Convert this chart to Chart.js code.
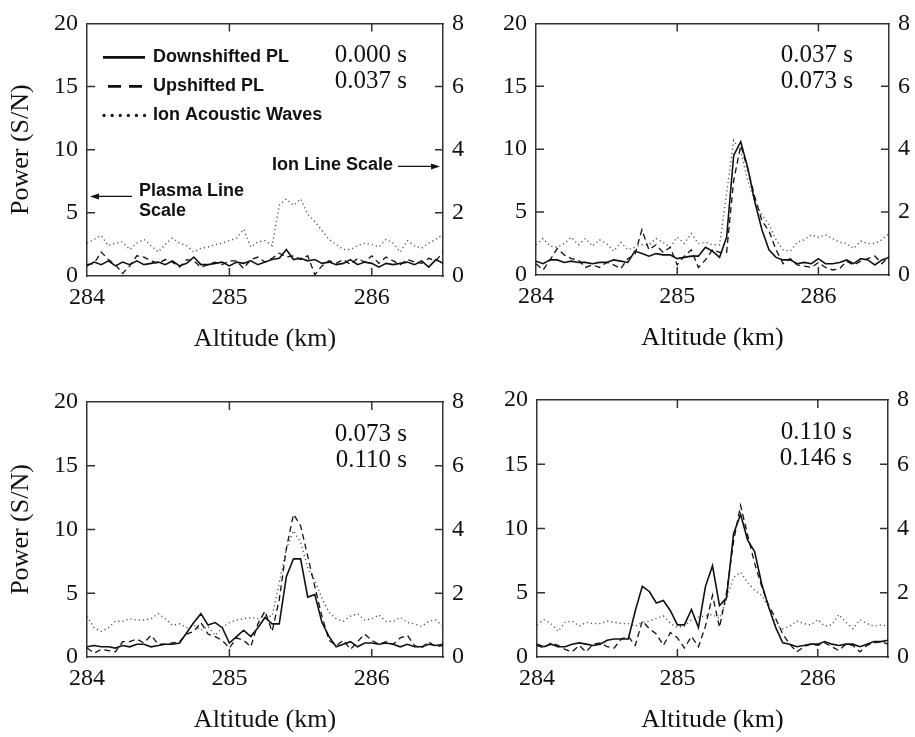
<!DOCTYPE html>
<html>
<head>
<meta charset="utf-8">
<title>Plasma line and ion line profiles</title>
<script src="https://cdn.jsdelivr.net/npm/chart.js@4.4.1/dist/chart.umd.min.js"></script>
<style>
  html, body { margin: 0; padding: 0; background: #fff; overflow: hidden; }
  #wrap { position: relative; width: 915px; height: 737px; }
  #wrap canvas { position: absolute; }
</style>
</head>
<body>
<div id="wrap">
  <canvas id="p1"></canvas>
  <canvas id="p2"></canvas>
  <canvas id="p3"></canvas>
  <canvas id="p4"></canvas>
</div>
<script>
// altitude grid (km), shared by every profile
const altitude = [
  284.00, 284.05, 284.10, 284.15, 284.20, 284.25, 284.30, 284.35, 284.40, 284.45,
  284.50, 284.55, 284.60, 284.65, 284.70, 284.75, 284.80, 284.85, 284.90, 284.95,
  285.00, 285.05, 285.10, 285.15, 285.20, 285.25, 285.30, 285.35, 285.40, 285.45,
  285.50, 285.55, 285.60, 285.65, 285.70, 285.75, 285.80, 285.85, 285.90, 285.95,
  286.00, 286.05, 286.10, 286.15, 286.20, 286.25, 286.30, 286.35, 286.40, 286.45,
  286.50
];
const altTicks = [284, 285, 286];
const plasmaTicks = [0, 5, 10, 15, 20];   // left axis, plasma line S/N
const ionTicks = [0, 2, 4, 6, 8];         // right axis, ion line S/N

// 0.000 s - 0.037 s
const down1 = [0.8,1.1,0.9,1.2,0.8,1.1,0.9,1.2,0.9,1.0, 1.1,0.9,1.2,0.8,1.0,1.5,0.9,0.9,1.0,1.1,
  0.8,1.1,1.0,1.2,0.9,1.1,1.3,1.4,2.1,1.3, 1.4,1.2,1.3,1.0,1.1,0.9,1.0,1.3,0.9,1.1,
  1.0,0.7,1.0,0.9,1.0,1.1,0.9,1.2,0.7,1.3,1.0];
const up1 = [0.9,1.0,1.9,1.3,0.9,0.2,0.8,1.6,1.5,1.2, 1.0,1.3,1.1,0.7,1.3,1.2,0.7,0.9,1.1,0.9,
  1.2,1.2,0.6,1.3,1.5,1.1,1.4,1.8,1.5,1.6, 1.3,1.6,0.1,0.8,1.2,1.0,1.3,0.9,1.4,1.1,
  1.6,1.0,1.5,1.2,0.9,1.3,1.1,1.0,1.4,1.2,1.9];
const ion1 = [1.04,1.16,1.28,0.96,1.04,1.08,0.84,1.04,1.16,0.96, 0.76,1.00,1.20,1.04,0.96,0.76,0.88,0.92,1.00,1.04,
  1.12,1.20,1.48,0.92,1.08,1.12,0.96,2.24,2.44,2.24, 2.44,1.96,1.72,1.44,1.16,1.00,0.84,0.84,0.96,1.04,
  1.00,0.92,1.16,1.04,0.76,1.12,0.96,0.88,1.04,1.16,1.32];

// 0.037 s - 0.073 s
const down2 = [1.1,0.9,1.2,1.2,1.0,1.1,1.0,1.0,0.9,1.0, 1.0,1.2,1.1,1.0,1.9,1.7,1.5,1.7,1.6,1.6,
  1.3,1.4,1.5,1.5,2.2,1.9,1.4,3.0,9.5,10.6, 8.5,5.8,3.6,2.0,1.4,1.2,1.2,0.9,1.0,0.9,
  1.3,0.9,0.9,1.0,1.2,0.9,1.3,1.2,0.8,1.2,1.4];
const up2 = [0.9,0.4,1.2,2.1,1.6,1.3,1.2,0.6,0.8,0.6, 1.0,0.8,0.5,1.3,1.6,3.6,2.0,2.4,1.8,2.2,
  0.8,1.5,2.0,0.6,1.2,2.0,1.8,1.8,7.5,10.3, 8.4,6.2,4.3,3.5,2.0,0.9,1.3,0.8,0.7,0.6,
  1.0,0.6,0.4,0.5,1.1,0.8,1.1,1.3,1.5,0.9,1.5];
const ion2 = [0.96,1.16,0.92,0.88,1.00,1.20,0.96,1.16,0.92,1.12, 1.00,0.76,1.04,0.80,0.88,0.96,0.96,1.16,1.04,0.88,
  1.20,1.00,1.32,1.00,1.04,0.96,0.96,2.60,4.28,3.92, 3.00,2.32,1.92,1.60,1.12,0.80,0.76,1.04,1.12,1.28,
  1.20,1.28,1.16,1.04,1.00,0.84,1.08,1.00,1.00,1.12,1.32];

// 0.073 s - 0.110 s
const down3 = [0.8,0.9,0.8,0.8,0.7,0.9,0.8,1.0,1.0,0.8, 0.9,1.0,1.0,1.1,1.9,2.7,3.4,2.5,2.7,2.3,
  1.1,1.6,2.1,1.6,2.3,3.1,2.6,2.6,6.3,7.7, 7.7,4.7,4.9,2.7,1.6,0.8,1.0,1.2,0.8,1.1,
  1.1,1.0,1.1,1.0,0.8,1.0,0.8,0.8,1.0,0.9,1.0];
const up3 = [0.7,0.3,0.6,0.5,0.4,1.2,1.2,1.4,1.1,1.7, 1.0,1.0,1.1,1.2,1.8,2.0,2.7,1.8,1.6,1.3,
  0.7,1.5,1.3,0.8,2.6,3.6,2.0,4.5,8.5,11.2, 10.3,7.9,5.5,3.2,1.3,0.9,1.3,0.6,1.2,1.8,
  1.3,1.0,1.2,1.0,1.5,1.7,0.9,0.7,1.2,0.8,0.9];
const ion3 = [1.28,0.92,0.80,0.92,1.12,1.12,1.20,1.16,1.16,1.20, 1.36,1.20,1.00,1.04,0.92,1.00,0.84,0.96,0.68,0.92,
  1.08,1.16,1.20,1.24,1.20,1.28,1.28,2.32,3.40,3.96, 3.60,2.80,2.40,1.84,1.40,1.20,1.12,1.28,1.36,1.16,
  1.20,1.32,1.12,1.12,1.24,1.08,1.04,0.96,1.12,1.16,0.96];

// 0.110 s - 0.146 s
const down4 = [1.0,0.8,1.0,0.8,0.8,1.0,1.1,1.0,0.9,1.0, 1.3,1.4,1.4,1.4,3.6,5.5,5.1,4.2,4.4,3.6,
  2.5,2.5,3.7,2.3,5.5,7.1,4.0,4.6,9.6,11.1, 9.1,8.2,5.7,3.9,2.3,1.1,1.0,0.8,0.9,1.0,
  1.0,1.2,1.0,0.9,1.0,1.0,0.8,1.0,1.2,1.2,1.3];
const up4 = [0.9,0.7,1.1,0.9,0.6,0.4,0.9,0.4,1.0,1.1, 0.8,0.7,1.4,1.6,0.9,2.8,2.2,1.8,0.9,1.9,
  1.5,0.7,1.6,0.8,2.4,4.8,2.3,5.0,9.0,11.8, 9.5,7.3,5.5,4.0,3.0,1.8,1.0,0.4,0.8,1.0,
  0.9,1.1,0.8,0.5,1.0,0.9,0.4,0.9,1.1,1.2,1.0];
const ion4 = [1.00,1.16,1.04,0.80,1.08,1.12,0.96,1.08,1.04,1.04, 1.12,1.08,1.04,1.04,0.96,1.08,1.12,1.20,1.28,1.04,
  0.92,0.96,1.16,1.24,1.28,1.32,1.20,1.80,2.48,2.64, 2.32,2.08,1.92,1.56,1.00,0.88,0.96,1.12,1.04,1.00,
  1.16,0.96,1.00,1.32,1.08,0.88,1.16,1.04,0.96,1.00,0.96];

const times1 = ['0.000 s', '0.037 s'];
const times2 = ['0.037 s', '0.073 s'];
const times3 = ['0.073 s', '0.110 s'];
const times4 = ['0.110 s', '0.146 s'];

const seriesNames = ['Downshifted PL', 'Upshifted PL', 'Ion Acoustic Waves'];

const SERIF = '"Liberation Serif", "Times New Roman", serif';
const SANS = '"Liberation Sans", Arial, sans-serif';
const INK = '#111';
const FRAME = '#333';

// canvas box (page px) and plot area (page px: left, top, right, bottom)
const panels = [
  { id: 'p1', x: 0,   y: 0,   w: 470, h: 370, area: [87, 16, 443, 276],  down: down1, up: up1, ion: ion1, times: times1, yTitle: true,  extras: true },
  { id: 'p2', x: 465, y: 0,   w: 450, h: 369, area: [536, 15, 889, 275], down: down2, up: up2, ion: ion2, times: times2, yTitle: false, extras: false },
  { id: 'p3', x: 0,   y: 370, w: 470, h: 381, area: [87, 402, 443, 657], down: down3, up: up3, ion: ion3, times: times3, yTitle: true,  extras: false },
  { id: 'p4', x: 465, y: 370, w: 450, h: 381, area: [537, 400, 888, 657], down: down4, up: up4, ion: ion4, times: times4, yTitle: false, extras: false }
];

// short tick marks pointing into the frame on all four sides
const innerTicks = {
  id: 'innerTicks',
  afterDraw(chart) {
    const { ctx, chartArea: a, scales } = chart;
    const len = 8;
    ctx.save();
    ctx.strokeStyle = FRAME;
    ctx.lineWidth = 1.5;
    ctx.beginPath();
    altTicks.slice(1).forEach(v => {
      const px = scales.x.getPixelForValue(v);
      ctx.moveTo(px, a.bottom); ctx.lineTo(px, a.bottom - len);
      ctx.moveTo(px, a.top); ctx.lineTo(px, a.top + len);
    });
    plasmaTicks.slice(1, -1).forEach(v => {
      const py = scales.y.getPixelForValue(v);
      ctx.moveTo(a.left, py); ctx.lineTo(a.left + len, py);
    });
    ionTicks.slice(1, -1).forEach(v => {
      const py = scales.y2.getPixelForValue(v);
      ctx.moveTo(a.right, py); ctx.lineTo(a.right - len, py);
    });
    ctx.stroke();
    ctx.restore();
  }
};

function arrow(ctx, x0, x1, y) {
  const dir = Math.sign(x1 - x0);
  ctx.beginPath();
  ctx.moveTo(x0, y); ctx.lineTo(x1 - dir * 6, y);
  ctx.lineWidth = 1.2;
  ctx.stroke();
  ctx.beginPath();
  ctx.moveTo(x1, y);
  ctx.lineTo(x1 - dir * 9, y - 3);
  ctx.lineTo(x1 - dir * 9, y + 3);
  ctx.closePath();
  ctx.fill();
}

function notesPlugin(p) {
  return {
    id: 'notes',
    afterDraw(chart) {
      const { ctx, chartArea: a } = chart;
      ctx.save();
      ctx.fillStyle = INK;
      ctx.strokeStyle = INK;
      ctx.textBaseline = 'middle';

      ctx.font = '25px ' + SERIF;
      ctx.textAlign = 'right';
      p.times.forEach((t, k) => ctx.fillText(t, a.right - 36, a.top + 32 + 26 * k));

      if (p.extras) {
        // legend
        const rows = [34, 63, 92];
        const styles = [
          { w: 2.6, dash: [], x0: 16 },
          { w: 2.6, dash: [13, 8], x0: 21 },
          { w: 3.2, dash: [0.1, 8], x0: 17 }
        ];
        ctx.font = 'bold 18px ' + SANS;
        ctx.textAlign = 'left';
        seriesNames.forEach((name, k) => {
          const s = styles[k];
          const y = a.top + rows[k];
          ctx.save();
          ctx.lineWidth = s.w;
          ctx.lineCap = k === 2 ? 'round' : 'butt';
          ctx.setLineDash(s.dash);
          ctx.beginPath();
          ctx.moveTo(a.left + s.x0, y);
          ctx.lineTo(a.left + 58, y);
          ctx.stroke();
          ctx.restore();
          ctx.fillText(name, a.left + 66, y);
        });

        // which axis belongs to which trace
        ctx.textAlign = 'right';
        ctx.fillText('Ion Line Scale', a.right - 50, a.top + 142);
        arrow(ctx, a.right - 45, a.right - 3, a.top + 143);
        ctx.textAlign = 'left';
        ctx.fillText('Plasma Line', a.left + 52, a.top + 168);
        ctx.fillText('Scale', a.left + 52, a.top + 188);
        arrow(ctx, a.left + 45, a.left + 3, a.top + 173);
      }
      ctx.restore();
    }
  };
}

function makeChart(p) {
  const canvas = document.getElementById(p.id);
  canvas.width = p.w;
  canvas.height = p.h;
  canvas.style.left = p.x + 'px';
  canvas.style.top = p.y + 'px';

  const pts = vals => altitude.map((x, i) => ({ x: x, y: vals[i] }));
  const border = { display: true, color: FRAME, width: 1.5 };
  const noGrid = { display: false, drawTicks: false };
  const tickFont = { family: SERIF, size: 24 };
  const fixTicks = list => scale => { scale.ticks = list.map(v => ({ value: v })); };

  new Chart(canvas, {
    type: 'line',
    data: {
      datasets: [
        { label: seriesNames[0], data: pts(p.down), yAxisID: 'y', borderColor: INK, borderWidth: 1.6 },
        { label: seriesNames[1], data: pts(p.up), yAxisID: 'y', borderColor: INK, borderWidth: 1.3, borderDash: [6, 4] },
        { label: seriesNames[2], data: pts(p.ion), yAxisID: 'y2', borderColor: '#555', borderWidth: 1.4, borderDash: [1.2, 3] }
      ]
    },
    options: {
      responsive: false,
      animation: false,
      events: [],
      layout: { padding: 0 },
      elements: { point: { radius: 0 }, line: { tension: 0, fill: false } },
      plugins: { legend: { display: false }, tooltip: { enabled: false } },
      scales: {
        x: {
          type: 'linear', position: 'bottom', min: 284, max: 286.5,
          afterBuildTicks: fixTicks(altTicks),
          afterFit: s => { s.height = p.y + p.h - p.area[3]; },
          grid: noGrid, border: border,
          ticks: { font: tickFont, color: INK, padding: 7, maxRotation: 0, autoSkip: false },
          title: { display: true, text: 'Altitude (km)', color: INK, font: { family: SERIF, size: 26 }, padding: { top: 0, bottom: 15 } }
        },
        xTop: {
          type: 'linear', position: 'top', min: 284, max: 286.5,
          afterFit: s => { s.height = p.area[1] - p.y; },
          grid: noGrid, border: border,
          ticks: { display: false }
        },
        y: {
          type: 'linear', position: 'left', min: 0, max: 20,
          afterBuildTicks: fixTicks(plasmaTicks),
          afterFit: s => { s.width = p.area[0] - p.x; },
          grid: noGrid, border: border,
          ticks: { font: tickFont, color: INK, padding: 9 },
          title: { display: p.yTitle, text: 'Power (S/N)', color: INK, font: { family: SERIF, size: 26 }, padding: { top: 6, bottom: 0 } }
        },
        y2: {
          type: 'linear', position: 'right', min: 0, max: 8,
          afterBuildTicks: fixTicks(ionTicks),
          afterFit: s => { s.width = p.x + p.w - p.area[2]; },
          grid: noGrid, border: border,
          ticks: { font: tickFont, color: INK, padding: 9 }
        }
      }
    },
    plugins: [innerTicks, notesPlugin(p)]
  });
}

panels.forEach(makeChart);
</script>
</body>
</html>
